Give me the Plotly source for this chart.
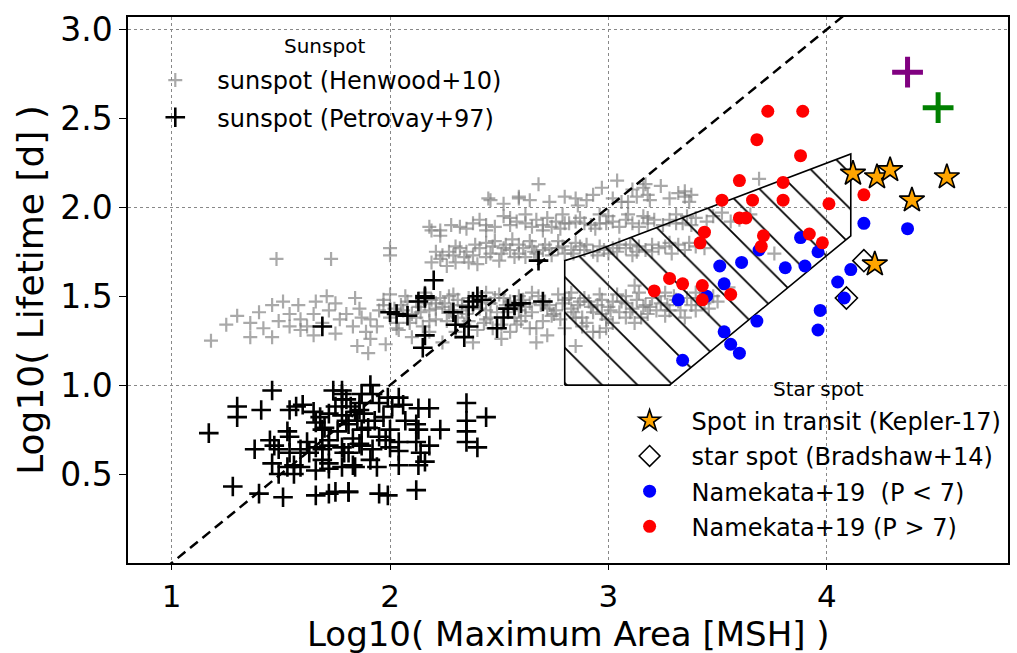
import plotly.graph_objects as go

# ---------------- data ----------------
# Henwood+10 sunspots (gray plus)
henwood = [
    (1.18, 1.25), (1.30, 1.39), (1.36, 1.35), (1.36, 1.27), (1.42, 1.32), (1.46, 1.45), (1.51, 1.47),
    (1.46, 1.27), (1.54, 1.40), (1.54, 1.33), (1.59, 1.37), (1.59, 1.31), (1.65, 1.40), (1.66, 1.47),
    (1.71, 1.50), (1.72, 1.42), (1.75, 1.46), (1.75, 1.29), (1.65, 1.28), (1.62, 1.33), (1.80, 1.40),
    (1.84, 1.49), (1.83, 1.33), (1.87, 1.38), (1.91, 1.26), (1.91, 1.37), (1.95, 1.42), (1.94, 1.33),
    (2.00, 1.51), (2.03, 1.35), (2.06, 1.42), (2.04, 1.31), (2.12, 1.38), (2.15, 1.33), (2.18, 1.42),
    (2.21, 1.37), (2.21, 1.46), (1.48, 1.71), (1.73, 1.71), (2.00, 1.77), (1.40, 1.41), (1.49, 1.36),
    (1.58, 1.45), (1.69, 1.35), (1.77, 1.37), (1.86, 1.43), (1.97, 1.45), (1.89, 1.30), (2.08, 1.47),
    (1.25, 1.34),
    (2.16, 1.52), (2.23, 1.49), (2.29, 1.51), (2.33, 1.45), (2.27, 1.41), (2.21, 1.43), (2.44, 1.52),
    (2.48, 1.49), (2.53, 1.45), (2.59, 1.50), (2.65, 1.52), (2.71, 1.47), (2.77, 1.51), (2.83, 1.52),
    (2.89, 1.49), (2.96, 1.51), (3.02, 1.47), (3.08, 1.50), (3.14, 1.52), (3.20, 1.49), (2.65, 1.41),
    (2.74, 1.39), (2.83, 1.43), (2.93, 1.41), (2.99, 1.37), (2.67, 1.32), (2.44, 1.37), (2.51, 1.34),
    (2.36, 1.36), (2.18, 1.36), (2.96, 1.30), (3.17, 1.45), (3.26, 1.52), (3.32, 1.47), (3.12, 1.56),
    (2.00, 1.38), (2.03, 1.32), (2.10, 1.40), (2.18, 1.30), (2.24, 1.24), (2.28, 1.42), (2.34, 1.34),
    (2.38, 1.24), (2.44, 1.42), (2.47, 1.32), (2.51, 1.26), (2.57, 1.38), (2.64, 1.32), (2.67, 1.24),
    (2.75, 1.40), (2.80, 1.32), (2.88, 1.38), (2.93, 1.30), (2.85, 1.22), (2.99, 1.32), (3.08, 1.38),
    (3.16, 1.44), (3.24, 1.46), (3.28, 1.42), (3.35, 1.38), (3.08, 1.46), (1.90, 1.18), (1.85, 1.22),
    (2.05, 1.45), (2.12, 1.47), (2.25, 1.46), (2.31, 1.48), (2.38, 1.44), (2.42, 1.47), (2.55, 1.47),
    (2.62, 1.44), (2.69, 1.45), (2.79, 1.46), (2.86, 1.45), (2.91, 1.47), (3.00, 1.44), (3.05, 1.41),
    (3.11, 1.43), (3.22, 1.42), (3.30, 1.50), (3.38, 1.45), (3.42, 1.49), (3.46, 1.43), (3.50, 1.47),
    (3.40, 1.52), (2.59, 1.42), (2.72, 1.43), (2.40, 1.50), (2.50, 1.51), (2.82, 1.49), (3.04, 1.51),
    (2.95, 1.45), (2.13, 1.44), (2.30, 1.30), (2.55, 1.30), (2.72, 1.28), (2.88, 1.33), (3.02, 1.35),
    (3.15, 1.38), (2.60, 1.36), (2.40, 1.31), (2.10, 1.27), (1.98, 1.23),
    (1.97, 1.48), (2.02, 1.43), (2.07, 1.50), (2.14, 1.41), (2.19, 1.48), (2.24, 1.44), (2.27, 1.50),
    (2.33, 1.42), (2.36, 1.49), (2.41, 1.43), (2.46, 1.46), (2.49, 1.41), (2.52, 1.49), (2.57, 1.43),
    (2.61, 1.48), (2.64, 1.46), (2.68, 1.50), (2.73, 1.45), (2.76, 1.42), (2.80, 1.48), (2.84, 1.41),
    (2.87, 1.47), (2.92, 1.44), (2.97, 1.48), (3.01, 1.42), (3.06, 1.47), (3.10, 1.41), (3.13, 1.48),
    (3.19, 1.44), (3.23, 1.50), (3.27, 1.45), (3.33, 1.42), (3.36, 1.49), (3.44, 1.46), (2.26, 1.36),
    (2.46, 1.38), (2.70, 1.36), (2.90, 1.35), (3.12, 1.35), (2.35, 1.40), (2.58, 1.34), (2.78, 1.37),
    (3.26, 1.39), (2.09, 1.35), (2.16, 1.46), (2.43, 1.35), (2.62, 1.39), (2.85, 1.38), (3.18, 1.40),
    (2.31, 1.38), (2.54, 1.41), (2.97, 1.40), (3.40, 1.42),
    (2.19, 1.69), (2.23, 1.71), (2.26, 1.67), (2.29, 1.73), (2.32, 1.77), (2.35, 1.75), (2.36, 1.69),
    (2.41, 1.77), (2.44, 1.72), (2.44, 1.80), (2.47, 1.78), (2.48, 1.81), (2.51, 1.74), (2.53, 1.79),
    (2.56, 1.82), (2.59, 1.79), (2.59, 1.74), (2.64, 1.81), (2.65, 1.78), (2.67, 1.74), (2.71, 1.79),
    (2.74, 1.73), (2.77, 1.77), (2.77, 1.81), (2.83, 1.76), (2.85, 1.80), (2.89, 1.76), (2.93, 1.75),
    (2.96, 1.78), (3.02, 1.77), (3.08, 1.77), (3.11, 1.73), (3.14, 1.78), (3.20, 1.79), (3.20, 1.75),
    (3.26, 1.78), (3.29, 1.74), (3.32, 1.79), (3.37, 1.80), (3.44, 1.77), (2.24, 1.73), (2.30, 1.69),
    (2.38, 1.73), (2.50, 1.70), (2.62, 1.72), (2.70, 1.76), (2.80, 1.74), (2.90, 1.79), (3.00, 1.74),
    (3.05, 1.79), (3.17, 1.76), (2.30, 1.78), (2.40, 1.68), (2.55, 1.76), (2.68, 1.70), (2.00, 1.73),
    (2.21, 1.75), (2.27, 1.75), (2.34, 1.72), (2.39, 1.79), (2.46, 1.74), (2.52, 1.77), (2.57, 1.72),
    (2.61, 1.77), (2.66, 1.75), (2.73, 1.77), (2.79, 1.78), (2.84, 1.74), (2.87, 1.78), (2.95, 1.73),
    (2.98, 1.76), (3.04, 1.75), (3.10, 1.79), (3.13, 1.75), (3.23, 1.77), (3.28, 1.80), (3.35, 1.76),
    (3.40, 1.78),
    (2.18, 1.89), (2.19, 1.87), (2.23, 1.84), (2.23, 1.87), (2.32, 1.89), (2.38, 1.91), (2.44, 1.90),
    (2.44, 1.87), (2.52, 1.95), (2.58, 1.92), (2.62, 1.91), (2.62, 1.96), (2.67, 1.93), (2.70, 1.90),
    (2.70, 1.87), (2.76, 1.92), (2.79, 1.96), (2.80, 1.91), (2.85, 1.92), (2.89, 1.91), (2.94, 1.88),
    (2.96, 1.96), (2.99, 1.91), (3.05, 1.89), (3.08, 1.93), (3.09, 1.96), (3.14, 1.89), (3.18, 1.94),
    (3.21, 1.93), (3.28, 1.93), (3.31, 1.96), (3.31, 1.91), (3.34, 1.91), (3.40, 1.94), (3.45, 1.92),
    (3.52, 1.97), (3.60, 1.93), (2.82, 1.91), (2.96, 1.91), (3.18, 1.91), (3.36, 1.95), (2.55, 1.90),
    (2.74, 1.89), (3.00, 1.95), (2.28, 1.90), (2.35, 1.88), (2.41, 1.93), (2.48, 1.89), (2.55, 1.94),
    (2.65, 1.89), (2.72, 1.94), (2.78, 1.88), (2.87, 1.94), (2.92, 1.90), (3.02, 1.92), (3.11, 1.91),
    (3.16, 1.95), (3.25, 1.90), (3.38, 1.90), (3.48, 1.95), (3.56, 1.92), (3.65, 1.96),
    (2.45, 2.05), (2.46, 2.04), (2.59, 2.06), (2.59, 2.05), (2.68, 2.13), (2.73, 2.03), (2.80, 2.06),
    (2.85, 2.05), (2.86, 2.01), (2.93, 2.07), (3.02, 2.05), (3.04, 2.15), (3.06, 2.03), (3.09, 2.03),
    (3.11, 2.10), (3.16, 2.11), (3.17, 2.13), (3.18, 2.07), (3.19, 2.04), (3.24, 2.12), (3.32, 2.08),
    (3.35, 2.09), (3.35, 2.06), (3.38, 2.07), (3.37, 2.03), (3.69, 2.16), (2.97, 2.11), (2.52, 2.02),
    (2.64, 2.04), (2.90, 2.04), (3.13, 2.06), (3.28, 2.05),
    (3.76, 1.74), (3.48, 1.50), (3.31, 1.48), (3.55, 1.55),
]

# Petrovay+97 sunspots (black plus)
petrovay = [
    (1.46, 0.97), (1.30, 0.88), (1.30, 0.82), (1.41, 0.86), (1.17, 0.73), (1.54, 0.86), (1.57, 0.88),
    (1.60, 0.89), (1.65, 0.85), (1.68, 0.82), (1.72, 0.84), (1.75, 0.88), (1.78, 0.97), (1.78, 0.92),
    (1.66, 0.79), (1.69, 0.75), (1.53, 0.74), (1.45, 0.69), (1.47, 0.66), (1.38, 0.64), (1.49, 0.64),
    (1.59, 0.64), (1.62, 0.68), (1.54, 0.62), (1.66, 0.65), (1.69, 0.64), (1.72, 0.69), (1.78, 0.65),
    (1.81, 0.62), (1.46, 0.56), (1.53, 0.54), (1.56, 0.55), (1.59, 0.54), (1.66, 0.52), (1.72, 0.56),
    (1.78, 0.54), (1.84, 0.54), (1.49, 0.50), (1.56, 0.50), (1.28, 0.43), (1.40, 0.39), (1.51, 0.37),
    (1.66, 0.38), (1.72, 0.39), (1.75, 0.40), (1.81, 0.40), (1.54, 0.71), (1.63, 0.62), (1.69, 0.58),
    (1.72, 0.53),
    (1.91, 1.00), (1.92, 0.95), (1.99, 0.93), (2.04, 0.93), (2.06, 0.89), (2.13, 0.87), (2.18, 0.87),
    (2.35, 0.90), (2.35, 0.80), (2.44, 0.82), (2.12, 0.78), (2.13, 0.75), (2.23, 0.75), (2.35, 0.74),
    (2.35, 0.68), (2.40, 0.65), (2.04, 0.68), (2.12, 0.68), (2.18, 0.66), (2.04, 0.63), (2.14, 0.62),
    (2.16, 0.57), (2.13, 0.55), (2.04, 0.55), (1.94, 0.54), (1.83, 0.55), (1.81, 0.40), (1.95, 0.39),
    (1.99, 0.38), (2.12, 0.41), (1.95, 0.71), (2.00, 0.75), (1.97, 0.82), (1.86, 0.86), (1.92, 0.64),
    (1.86, 0.67), (2.07, 0.80), (2.01, 0.88), (1.80, 0.80), (1.87, 0.75), (1.78, 0.95), (2.00, 0.65),
    (1.91, 0.58),
    (1.80, 0.92), (1.82, 0.88), (1.84, 0.85), (1.86, 0.90), (1.78, 0.83), (1.81, 0.78), (1.85, 0.80),
    (1.88, 0.84), (1.90, 0.76), (1.76, 0.74), (1.83, 0.70), (1.87, 0.66), (1.79, 0.62), (1.74, 0.97),
    (1.87, 0.95), (1.95, 0.90), (1.93, 0.80), (1.98, 0.69), (1.70, 0.76), (1.72, 0.66),
    (1.69, 1.33), (2.00, 1.41), (2.03, 1.40), (2.08, 1.39), (2.13, 1.47), (2.16, 1.50), (2.20, 1.59),
    (2.16, 1.28), (2.16, 1.49), (2.29, 1.41), (2.30, 1.34), (2.34, 1.27), (2.36, 1.33), (2.38, 1.47),
    (2.40, 1.50), (2.42, 1.48), (2.36, 1.44), (2.52, 1.38), (2.54, 1.43), (2.57, 1.45), (2.60, 1.46),
    (2.70, 1.47), (2.68, 1.70), (2.15, 1.21), (2.49, 1.32),
]

# Namekata+19 star spots
blue_x = [4.17, 4.37, 3.88, 3.69, 3.96, 3.51, 3.61, 3.81, 3.90, 3.53, 3.45, 3.32,
          4.11, 4.05, 4.08, 3.97, 3.96, 3.68, 3.53, 3.56, 3.60, 3.34]
blue_y = [1.91, 1.88, 1.83, 1.76, 1.75, 1.67, 1.69, 1.66, 1.67, 1.57, 1.50, 1.48,
          1.65, 1.58, 1.49, 1.42, 1.31, 1.36, 1.30, 1.23, 1.18, 1.14]
red_x = [4.17, 3.73, 3.89, 3.68, 3.88, 3.60, 3.80, 3.52, 3.66, 3.80, 4.01, 3.60, 3.63,
         3.44, 3.42, 3.71, 3.70, 3.92, 3.98, 3.28, 3.34, 3.21, 3.43, 3.43, 3.56]
red_y = [2.07, 2.54, 2.54, 2.38, 2.29, 2.15, 2.14, 2.04, 2.04, 2.04, 2.02, 1.94, 1.94,
         1.86, 1.80, 1.84, 1.78, 1.85, 1.80, 1.60, 1.57, 1.53, 1.56, 1.48, 1.51]

# Spot in transit (Kepler-17)
star_x = [4.12, 4.23, 4.29, 4.55, 4.39, 4.22]
star_y = [2.19, 2.17, 2.21, 2.17, 2.04, 1.68]
# Bradshaw+14
bradshaw_x = [4.17, 4.09]
bradshaw_y = [1.70, 1.49]
# extra points (purple, green)
purple_x, purple_y = [4.37], [2.76]
green_x, green_y = [4.51], [2.56]

# hatched region
region_x = [2.80, 3.28, 4.11, 4.11, 2.93, 2.80, 2.80]
region_y = [1.00, 1.00, 1.84, 2.30, 1.75, 1.70, 1.00]

# reference line  log(T) = slope * log(A) + intercept
ref_slope, ref_intercept = 1.0, -1.0

x_range = [0.8, 4.83]
y_range = [0.0, 3.07]
x_ticks = [1, 2, 3, 4]
y_ticks = [0.5, 1.0, 1.5, 2.0, 2.5, 3.0]
y_grid = [1.0, 2.0, 3.0]

FONT = "DejaVu Sans"
GRAY = "rgba(128,128,128,0.68)"

# plot-area geometry in pixels (used to place text annotations)
W, H = 1017, 653
ML, MR, MT, MB = 128, 7, 17, 90
PW, PH = W - ML - MR, H - MT - MB


def px_to_paper(px, py):
    return (px - ML) / PW, (H - MB - py) / PH


fig = go.Figure()

fig.add_trace(go.Scatter(
    x=[p[0] for p in henwood], y=[p[1] for p in henwood], mode="markers",
    name="sunspot (Henwood+10)", legend="legend", legendgroup="g1",
    marker=dict(symbol="cross-thin", size=10, color=GRAY, line=dict(width=2.2, color=GRAY))))

fig.add_trace(go.Scatter(
    x=[p[0] for p in petrovay], y=[p[1] for p in petrovay], mode="markers",
    name="sunspot (Petrovay+97)", legend="legend", legendgroup="g2",
    marker=dict(symbol="cross-thin", size=14, color="black",
                line=dict(width=2.6, color="black"))))

fig.add_trace(go.Scatter(
    x=x_range, y=[ref_slope * v + ref_intercept for v in x_range], mode="lines",
    showlegend=False, line=dict(color="black", width=2.5, dash="10px,6px")))

fig.add_trace(go.Scatter(
    x=region_x, y=region_y, mode="lines", fill="toself", showlegend=False,
    fillcolor="rgba(0,0,0,0)",
    fillpattern=dict(shape="\\", size=25, solidity=0.07, fgcolor="black", fgopacity=1,
                     bgcolor="rgba(0,0,0,0)", fillmode="overlay"),
    line=dict(color="black", width=1.6)))

fig.add_trace(go.Scatter(
    x=bradshaw_x, y=bradshaw_y, mode="markers", name="star spot (Bradshaw+14)",
    legend="legend2", legendrank=2, legendgroup="s2",
    marker=dict(symbol="diamond", size=17, color="white", line=dict(width=1.6, color="black"))))

fig.add_trace(go.Scatter(
    x=star_x, y=star_y, mode="markers", name="Spot in transit (Kepler-17)",
    legend="legend2", legendrank=1, legendgroup="s1",
    marker=dict(symbol="star", size=19, color="orange", line=dict(width=1.6, color="black"))))

fig.add_trace(go.Scatter(
    x=blue_x, y=blue_y, mode="markers", name="Namekata+19  (P < 7)",
    legend="legend2", legendrank=3, legendgroup="s3",
    marker=dict(symbol="circle", size=13, color="blue")))

fig.add_trace(go.Scatter(
    x=red_x, y=red_y, mode="markers", name="Namekata+19 (P > 7)",
    legend="legend2", legendrank=4, legendgroup="s4",
    marker=dict(symbol="circle", size=13, color="red")))

fig.add_trace(go.Scatter(
    x=purple_x, y=purple_y, mode="markers", showlegend=False,
    marker=dict(symbol="cross-thin", size=22, color="purple", line=dict(width=5, color="purple"))))
fig.add_trace(go.Scatter(
    x=green_x, y=green_y, mode="markers", showlegend=False,
    marker=dict(symbol="cross-thin", size=22, color="green", line=dict(width=5, color="green"))))

sx, sy = px_to_paper(325, 46)
tx, ty = px_to_paper(820, 389)
xtx, xty = px_to_paper(569, 634)

fig.update_layout(
    width=W, height=H,
    margin=dict(l=ML, r=MR, t=MT, b=MB),
    paper_bgcolor="white", plot_bgcolor="white",
    font=dict(family=FONT, color="black"),
    xaxis=dict(range=x_range, tickvals=x_ticks, ticktext=[str(v) for v in x_ticks],
               showgrid=True, gridcolor="#888888", griddash="dot", gridwidth=1.2,
               showline=True, linecolor="black", linewidth=1.5, mirror=True,
               ticks="outside", ticklen=5, tickwidth=1.2, tickcolor="black",
               tickfont=dict(size=31, family=FONT), zeroline=False, automargin=False),
    yaxis=dict(range=y_range, tickvals=y_ticks, ticktext=["%.1f" % v for v in y_ticks],
               showgrid=False, showline=True, linecolor="black", linewidth=1.5, mirror=True,
               ticks="outside", ticklen=7, tickwidth=1.2, tickcolor="black",
               tickfont=dict(size=33, family=FONT), zeroline=False,
               title=dict(text="Log10( Lifetime [d] )", font=dict(size=36, family=FONT),
                          standoff=6)),
    yaxis2=dict(range=y_range, overlaying="y", tickvals=y_grid, showticklabels=False,
                ticks="", showgrid=True, gridcolor="#888888", griddash="dot", gridwidth=1.2,
                showline=False, zeroline=False),
    legend=dict(x=0.006, y=0.925, xanchor="left", yanchor="top", bgcolor="rgba(0,0,0,0)",
                font=dict(size=24, family=FONT), itemwidth=74, tracegroupgap=3),
    legend2=dict(x=0.545, y=0.301, xanchor="left", yanchor="top", bgcolor="rgba(0,0,0,0)",
                 font=dict(size=24, family=FONT), itemwidth=74, tracegroupgap=1),
    annotations=[
        dict(text="Sunspot", xref="paper", yref="paper", x=sx, y=sy,
             xanchor="center", yanchor="middle", showarrow=False, font=dict(size=20, family=FONT)),
        dict(text="Star spot", xref="paper", yref="paper", x=tx, y=ty,
             xanchor="center", yanchor="middle", showarrow=False, font=dict(size=20, family=FONT)),
        dict(text="Log10( Maximum Area [MSH] )", xref="paper", yref="paper", x=xtx, y=xty,
             xanchor="center", yanchor="middle", showarrow=False, font=dict(size=34, family=FONT)),
    ],
)

# attach an empty trace to yaxis2 so the overlay grid is drawn
fig.add_trace(go.Scatter(x=[None], y=[None], yaxis="y2", showlegend=False, hoverinfo="skip"))

fig.write_html("out.html", config={"displayModeBar": False},
               post_script="document.body.style.margin='0';document.body.style.overflow='hidden';")
